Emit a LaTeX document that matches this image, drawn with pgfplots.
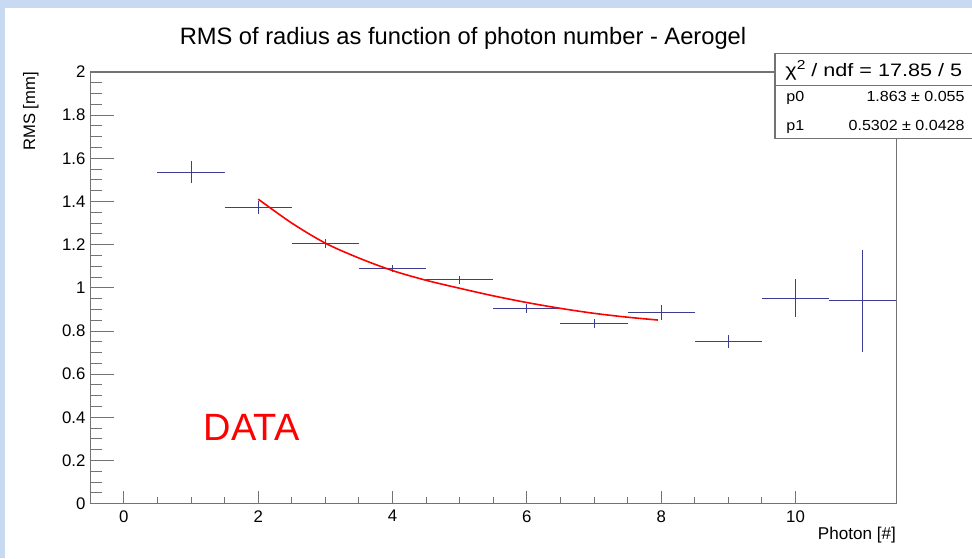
\documentclass[border=0pt]{standalone}
\usepackage{pgfplots}
\pgfplotsset{compat=1.18}
\usepackage{pgfplotstable}
\usepackage{fontspec}
\setmainfont{Liberation Sans}
\newfontfamily\widefont[FakeStretch=1.2]{Liberation Sans}
\newfontfamily\statfont[FakeStretch=1.1]{Liberation Sans}
\definecolor{bgblue}{RGB}{200,218,242}
\definecolor{navy}{RGB}{60,60,145}
\definecolor{axisgray}{RGB}{115,115,115}

\pgfplotstableread{
x y ex ey
1 1.536 0.5 0.050
2 1.373 0.5 0.031
3 1.205 0.5 0.022
4 1.089 0.5 0.017
5 1.038 0.5 0.019
6 0.905 0.5 0.022
7 0.836 0.5 0.020
8 0.885 0.5 0.035
9 0.752 0.5 0.029
10 0.952 0.5 0.087
11 0.941 0.5 0.236
}\datatable

\pgfplotstableread{
x y
2.0 1.411
2.5 1.300
3.0 1.207
3.5 1.138
4.0 1.080
4.5 1.035
5.0 0.998
5.5 0.963
6.0 0.932
6.5 0.905
7.0 0.882
7.5 0.864
7.95 0.851
}\fittable

\begin{document}
\begin{tikzpicture}
\useasboundingbox (0,0) rectangle (486pt,-279pt);
\fill[bgblue] (0,0) rectangle (486pt,-279pt);
\fill[white] (2.5pt,-4pt) rectangle (486pt,-279pt);

% y ticks axis
\begin{axis}[
  at={(45.15pt,-251.85pt)}, anchor=south west,
  scale only axis, width=403pt, height=215.85pt,
  xmin=-0.5, xmax=11.5, ymin=0, ymax=2,
  axis line style={draw=axisgray, line width=0.6pt},
  xtick=\empty,
  ytick={0,0.2,0.4,0.6,0.8,1,1.2,1.4,1.6,1.8,2},
  minor y tick num=3,
  ytick pos=left, tick align=inside,
  major tick length=12pt, minor tick length=6pt,
  tick style={draw=axisgray, line width=0.5pt},
  /pgf/number format/assume math mode=true,
  yticklabel style={font=\fontsize{8.4}{9}\selectfont, inner sep=0pt, xshift=-2.2pt},
]
\end{axis}

% main axis with data and x ticks
\begin{axis}[
  at={(45.15pt,-251.85pt)}, anchor=south west,
  scale only axis, width=403pt, height=215.85pt,
  xmin=-0.5, xmax=11.5, ymin=0, ymax=2,
  axis line style={draw=axisgray, line width=0.6pt},
  xtick={0,2,4,6,8,10},
  minor x tick num=3,
  ytick=\empty,
  xtick pos=bottom, tick align=inside,
  major tick length=6.5pt, minor tick length=3.2pt,
  tick style={draw=axisgray, line width=0.5pt},
  /pgf/number format/assume math mode=true,
  xticklabel style={font=\fontsize{8.4}{9}\selectfont, inner sep=0pt, yshift=-3.1pt},
]
\addplot[draw=none, mark=none,
  error bars/.cd, x dir=both, x explicit, y dir=both, y explicit,
  error mark=none,
  error bar style={draw=navy, line width=0.55pt, solid}]
  table[x=x, y=y, x error=ex, y error=ey]{\datatable};
\addplot[red, line width=0.8pt, smooth, mark=none] table[x=x, y=y]{\fittable};
\end{axis}

\begin{scope}[x=0.5pt, y=-0.5pt]
\node[anchor=base, inner sep=0pt, font=\fontsize{11.85}{13}\selectfont] at (463,44.3)
  {RMS of radius as function of photon number - Aerogel};
\node[rotate=90, anchor=base east, inner sep=0pt, font=\fontsize{8.3}{9}\selectfont] at (35,71.7) {RMS [mm]};
\node[anchor=base east, inner sep=0pt, font=\fontsize{8.55}{9}\selectfont] at (896.3,539.3) {Photon [\#]};
\node[anchor=base west, inner sep=0pt, text=red, font=\fontsize{19}{20}\selectfont] at (203.3,440) {DATA};
% statistics box
\fill[white] (775,53.7) rectangle (985,138.7);
\draw[axisgray, line width=0.6pt] (985,53.7) -- (775,53.7) -- (775,138.7) -- (985,138.7);
\draw[axisgray, line width=0.6pt] (775,85.3) -- (985,85.3);
\node[anchor=base west, inner sep=0pt, font=\widefont\fontsize{9}{10}\selectfont] at (785,76.3)
  {χ{\fontsize{6.5}{7}\selectfont\raisebox{3.6pt}{2}} / ndf = 17.85 / 5};
\node[anchor=base west, inner sep=0pt, font=\statfont\fontsize{7.3}{8}\selectfont] at (786,101.3) {p0};
\node[anchor=base east, inner sep=0pt, font=\statfont\fontsize{7.3}{8}\selectfont] at (965,101.3) {1.863 ± 0.055};
\node[anchor=base west, inner sep=0pt, font=\statfont\fontsize{7.3}{8}\selectfont] at (786,130.7) {p1};
\node[anchor=base east, inner sep=0pt, font=\statfont\fontsize{7.3}{8}\selectfont] at (965,130.7) {0.5302 ± 0.0428};
\end{scope}
\end{tikzpicture}
\end{document}
